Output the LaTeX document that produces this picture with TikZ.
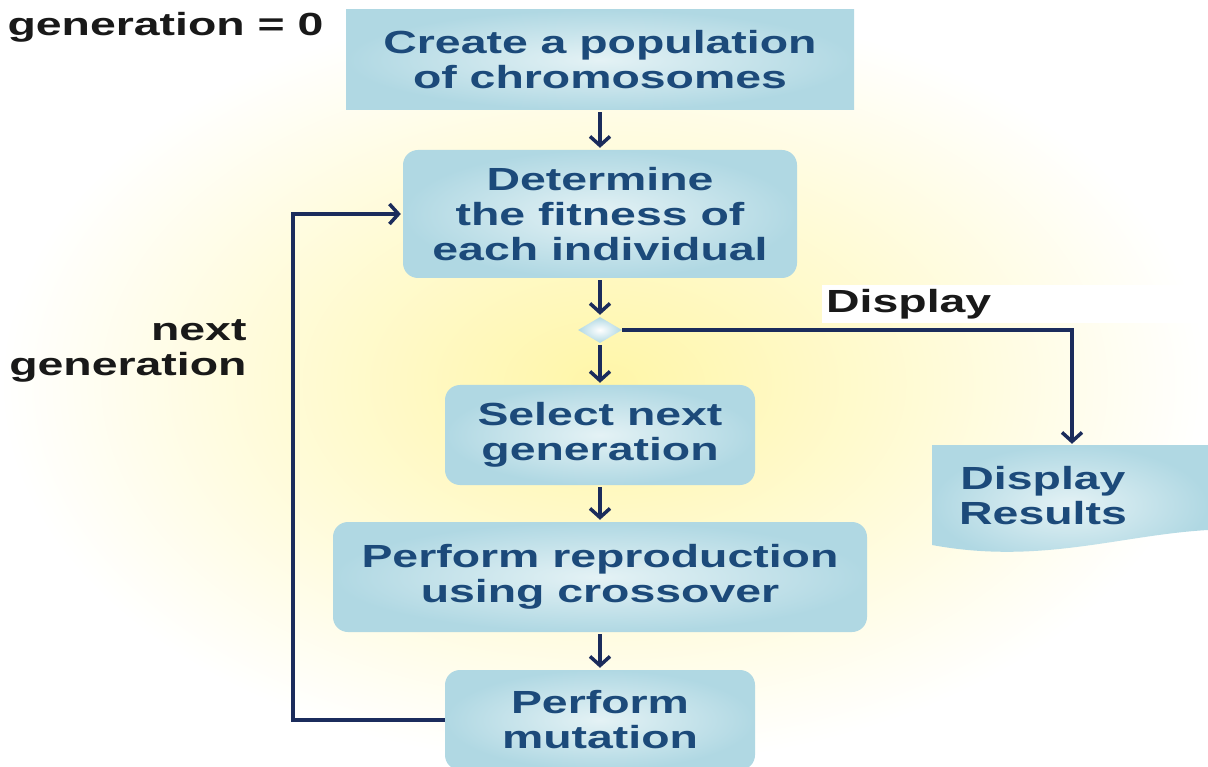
\documentclass[tikz,border=0pt]{standalone}
\usepackage{fontspec}
\setmainfont{Liberation Sans}[FakeStretch=1.45]
\usetikzlibrary{arrows.meta,shapes.geometric}
\definecolor{boxblue}{HTML}{B0D8E3}
\definecolor{boxlight}{HTML}{E4F2F5}
\definecolor{textblue}{HTML}{1C4A7A}
\definecolor{linenavy}{HTML}{1B2C5C}
\definecolor{bgyellow}{HTML}{FFF6A8}
\tikzstyle{flow}=[->,>={Straight Barb[length=9pt,width=20pt]},line width=3.5pt,draw=linenavy,shorten <=2pt,shorten >=2pt]
\tikzstyle{stepbox}=[inner color=boxlight,outer color=boxblue,text=textblue,font=\bfseries\fontsize{32}{35}\selectfont,align=center,rounded corners=15pt,inner sep=0pt]
\tikzstyle{decision}=[diamond,inner color=white,outer color=boxblue,minimum width=44pt,minimum height=26pt,inner sep=0pt]
\tikzstyle{sidelabel}=[text=black!90,font=\bfseries\fontsize{32}{35}\selectfont]

\begin{document}
\begin{tikzpicture}[x=1pt,y=-1pt]
\useasboundingbox (0,0) rectangle (1208,767);
\fill[inner color=bgyellow,outer color=white] (0,0) rectangle (1208,767);

% main chain
\node[stepbox,sharp corners,minimum width=508pt,minimum height=100pt] (create) at (600,60) {Create a population\\of chromosomes};
\node[stepbox,minimum width=394pt,minimum height=128pt] (fit) at (600,214) {Determine\\the fitness of\\each individual};
\node[decision] (dec) at (600,330) {};
\node[stepbox,minimum width=310pt,minimum height=100pt] (sel) at (600,435) {Select next\\generation};
\node[stepbox,minimum width=534pt,minimum height=110pt] (repro) at (600,577) {Perform reproduction\\using crossover};
\node[stepbox,minimum width=310pt,minimum height=100pt] (mut) at (600,720) {Perform\\mutation};

% display results (document shape)
\shade[inner color=boxlight,outer color=boxblue] (932,445) -- (1208,445) -- (1208,530) .. controls (1120,535) and (1040,565) .. (932,545) -- cycle;
\node[text=textblue,font=\bfseries\fontsize{32}{35}\selectfont,align=center,minimum height=100pt] (res) at (1043,496) {Display\\Results};

% labels
\node[sidelabel,anchor=west] (gen0) at (4,27) {generation = 0};
\node[sidelabel,align=right,anchor=east] (nextgen) at (250,351) {next\\generation};
\node[sidelabel,anchor=west,fill=white,text width=380pt,minimum height=38pt,inner xsep=4pt] (displbl) at (822,304) {Display};

\draw[flow] (create) -- (fit);
\draw[flow] (fit) -- (dec);
\draw[flow] (dec) -- (sel);
\draw[flow] (sel) -- (repro);
\draw[flow] (repro) -- (mut);

\draw[flow,shorten <=0pt] (dec.east) -| ([xshift=29pt]res.north);
\draw[flow,shorten <=0pt] (mut.west) -- ([xshift=-152pt]mut.west) |- (fit.west);

\end{tikzpicture}
\end{document}
